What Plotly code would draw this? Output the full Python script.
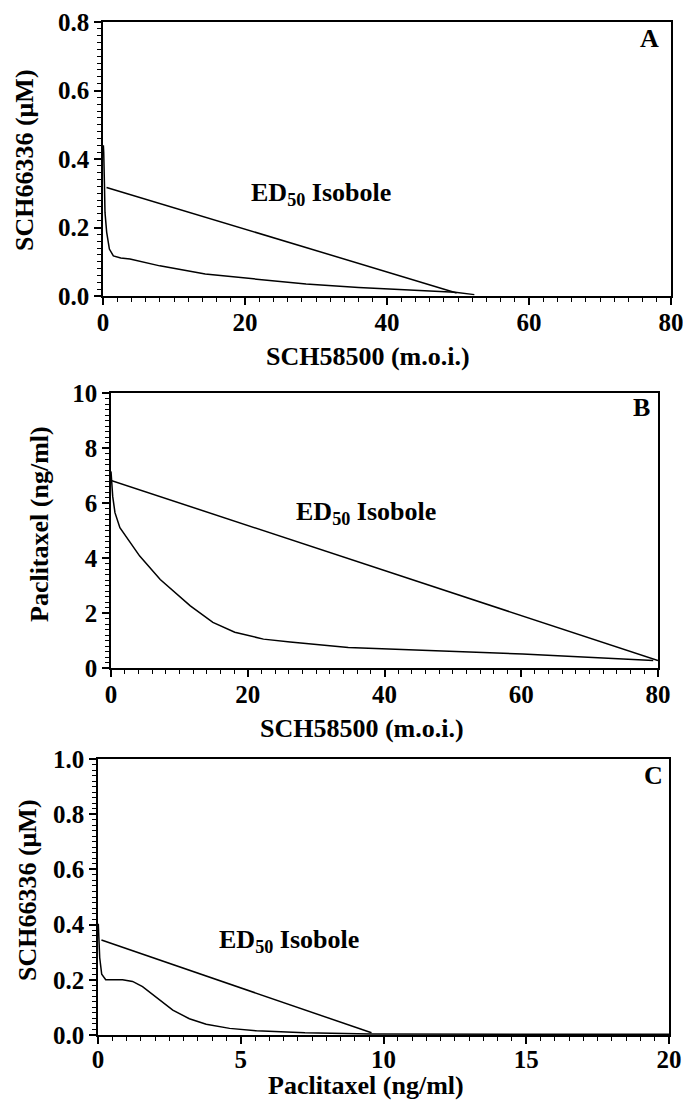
import plotly.graph_objects as go

# ---------------- data ----------------
# Panel A: SCH58500 (m.o.i.) vs SCH66336 (uM)
a_iso_x = [0.5, 49.8]
a_iso_y = [0.317, 0.009]
a_cur_x = [0.05, 0.1, 0.2, 0.28, 0.52, 0.9, 1.46, 2.5, 3.8, 8.0, 14.4, 20.0, 28.6, 36.0, 44.0, 49.6, 52.3]
a_cur_y = [0.44, 0.42, 0.33, 0.244, 0.186, 0.137, 0.117, 0.111, 0.108, 0.088, 0.064, 0.052, 0.035, 0.025, 0.016, 0.011, 0.004]

# Panel B: SCH58500 (m.o.i.) vs Paclitaxel (ng/ml)
b_iso_x = [0.0, 80.0]
b_iso_y = [6.82, 0.27]
b_cur_x = [0.0, 0.1, 0.25, 0.58, 1.3, 4.2, 7.2, 11.6, 14.9, 18.1, 22.3, 26.2, 34.7, 47.5, 60.2, 79.3]
b_cur_y = [7.15, 6.8, 6.24, 5.65, 5.1, 4.07, 3.22, 2.26, 1.66, 1.3, 1.05, 0.95, 0.75, 0.63, 0.51, 0.27]

# Panel C: Paclitaxel (ng/ml) vs SCH66336 (uM)
c_iso_x = [0.12, 9.58]
c_iso_y = [0.344, 0.008]
c_cur_x = [0.01, 0.03, 0.06, 0.13, 0.27, 0.86, 1.21, 1.56, 2.03, 2.62, 3.2, 3.79, 4.61, 5.55, 7.25, 9.55, 15.0, 20.0]
c_cur_y = [0.403, 0.36, 0.28, 0.22, 0.2, 0.2, 0.194, 0.175, 0.136, 0.09, 0.059, 0.039, 0.024, 0.015, 0.008, 0.004, 0.003, 0.003]

a_xticks = [0, 20, 40, 60, 80]
a_yticks = [0.0, 0.2, 0.4, 0.6, 0.8]
b_xticks = [0, 20, 40, 60, 80]
b_yticks = [0, 2, 4, 6, 8, 10]
c_xticks = [0, 5, 10, 15, 20]
c_yticks = [0.0, 0.2, 0.4, 0.6, 0.8, 1.0]

FONT = "Liberation Serif"
W, H = 683, 1100

fig = go.Figure()
line = dict(color="black", width=1.5)
for xs, ys in [(a_iso_x, a_iso_y), (a_cur_x, a_cur_y)]:
    fig.add_trace(go.Scatter(x=xs, y=ys, mode="lines", line=line, xaxis="x", yaxis="y", showlegend=False))
for xs, ys in [(b_iso_x, b_iso_y), (b_cur_x, b_cur_y)]:
    fig.add_trace(go.Scatter(x=xs, y=ys, mode="lines", line=line, xaxis="x2", yaxis="y2", showlegend=False))
for xs, ys in [(c_iso_x, c_iso_y), (c_cur_x, c_cur_y)]:
    fig.add_trace(go.Scatter(x=xs, y=ys, mode="lines", line=line, xaxis="x3", yaxis="y3", showlegend=False))

tickfont = dict(family=FONT, size=25, color="black", weight="bold")

def axis(dom, anchor, rng, ticks, minor, fmt, standoff):
    return dict(domain=dom, anchor=anchor, range=rng, tickvals=ticks, ticktext=[fmt.format(t) for t in ticks],
                automargin=False, ticklabeloverflow="allow",
                showgrid=False, zeroline=False, showline=True, linecolor="black", linewidth=1.5,
                mirror=True, ticks="outside", ticklen=7, tickwidth=1.5, tickcolor="black",
                tickfont=tickfont, ticklabelstandoff=standoff,
                minor=dict(dtick=minor, ticks="outside", ticklen=4, tickwidth=1, tickcolor="black", showgrid=False))

def px(x):
    return x / W

def py(y):
    return 1 - y / H

fig.update_layout(
    template="none",
    width=W, height=H, autosize=False,
    margin=dict(l=0, r=0, t=0, b=0, pad=0),
    paper_bgcolor="white", plot_bgcolor="white",
    xaxis=axis([px(103), px(671)], "y", [0, 80], a_xticks, 2, "{:d}", -4),
    yaxis=axis([py(296), py(22)], "x", [0, 0.8], a_yticks, 0.02, "{:.1f}", 0),
    xaxis2=axis([px(111), px(658)], "y2", [0, 80], b_xticks, 2, "{:d}", -4),
    yaxis2=axis([py(668), py(393)], "x2", [0, 10], b_yticks, 0.2, "{:d}", 0),
    xaxis3=axis([px(98), px(669)], "y3", [0, 20], c_xticks, 0.5, "{:d}", -6),
    yaxis3=axis([py(1035), py(759)], "x3", [0, 1.0], c_yticks, 0.02, "{:.1f}", 0),
)

tfont = dict(family=FONT, size=26, color="black", weight="bold")
C = dict(showarrow=False, font=tfont, xanchor="center", yanchor="middle")
ann = []
# axis titles
ann.append(dict(text="SCH58500 (m.o.i.)", x=px(368), y=py(357), xref="paper", yref="paper", **C))
ann.append(dict(text="SCH58500 (m.o.i.)", x=px(362), y=py(728), xref="paper", yref="paper", **C))
ann.append(dict(text="Paclitaxel (ng/ml)", x=px(366), y=py(1085), xref="paper", yref="paper", **C))
ann.append(dict(text="SCH66336 (\u03bcM)", x=px(24), y=py(160), xref="paper", yref="paper", textangle=-90, **C))
ann.append(dict(text="Paclitaxel (ng/ml)", x=px(39), y=py(524), xref="paper", yref="paper", textangle=-90, **C))
ann.append(dict(text="SCH66336 (\u03bcM)", x=px(27), y=py(890), xref="paper", yref="paper", textangle=-90, **C))
# isobole labels
ann.append(dict(text="ED<sub>50</sub> Isobole", x=30.7, y=0.297, xref="x", yref="y", **C))
ann.append(dict(text="ED<sub>50</sub> Isobole", x=37.3, y=5.65, xref="x2", yref="y2", **C))
ann.append(dict(text="ED<sub>50</sub> Isobole", x=6.7, y=0.342, xref="x3", yref="y3", **C))
# panel letters
ann.append(dict(text="A", x=px(649), y=py(39), xref="paper", yref="paper", **C))
ann.append(dict(text="B", x=px(641), y=py(408), xref="paper", yref="paper", **C))
ann.append(dict(text="C", x=px(653), y=py(775), xref="paper", yref="paper", **C))
fig.update_layout(annotations=ann)

fig.write_html(
    "out.html",
    config={"displayModeBar": False},
    post_script="document.body.style.margin='0px';document.body.style.padding='0px';"
                "document.documentElement.style.overflow='hidden';",
)
